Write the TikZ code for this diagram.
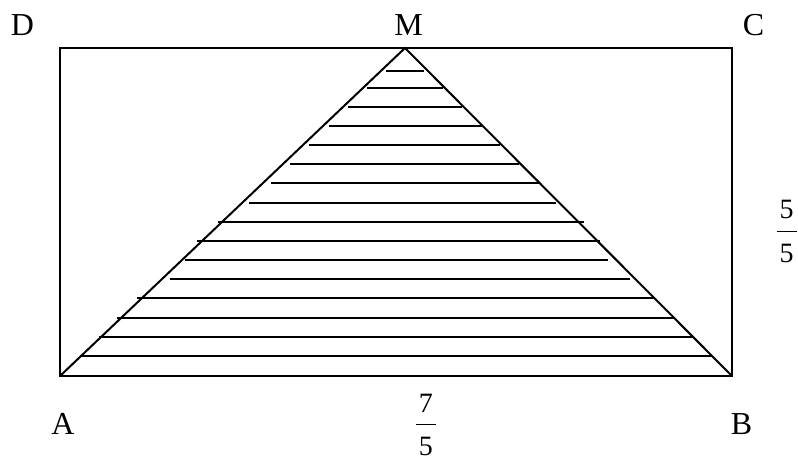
\documentclass[tikz,border=0pt]{standalone}
\usepackage{fontspec}
\setmainfont{Liberation Serif}
\usetikzlibrary{calc}

% Bruch aus Text-Ziffern (Zaehler, Strich, Nenner)
\newcommand{\bruch}[2]{\vbox{\hbox to 20pt{\hss #1\hss}\kern 12pt
    \hrule height 1.2pt\kern 12pt\hbox to 20pt{\hss #2\hss}}}

\tikzset{
    eckpunkt/.style={inner sep=0pt, anchor=base, font=\fontsize{32}{38}\selectfont},
    masszahl/.style={inner sep=0pt, font=\fontsize{28}{34}\selectfont},
    kante/.style={line width=2pt},
    schraffur/.style={line width=2pt}
}

\begin{document}
\begin{tikzpicture}[x=1pt, y=-1pt]
    \useasboundingbox (0,0) rectangle (798,461);

    % --- ECKPUNKTE ---
    \coordinate (A) at (60,376);
    \coordinate (B) at (732,376);
    \coordinate (C) at (732,48);
    \coordinate (D) at (60,48);
    \coordinate (M) at (405,48);

    % --- RECHTECK UND DREIECK ---
    \draw[kante] (A) -- (B) -- (C) -- (D) -- cycle;
    \draw[kante, line join=miter] (A) -- (M) -- (B);

    % Schraffur (hartcodierte Koordinaten)
    \foreach \y/\xl/\xr in {71/386/424, 88/367/443, 107/348/462, 126/329/482,
                            145/309/500, 164/290/519, 183/271/539, 203/249/556,
                            222/218/584, 241/197/600, 260/185/608, 279/170/630,
                            298/137/655, 318/117/674, 337/99/693, 356/80/712}
        \draw[schraffur] (\xl,\y) -- (\xr,\y);

    % --- BESCHRIFTUNG ---
    \node[eckpunkt] (labelD) at (22.5,35) {D};
    \node[eckpunkt] (labelM) at (408.5,35) {M};
    \node[eckpunkt] (labelC) at (753.5,35) {C};
    \node[eckpunkt] (labelA) at (63,434) {A};
    \node[eckpunkt] (labelB) at (741.5,434) {B};

    \node[masszahl] (hoehe) at (786.7,231.5) {\bruch{5}{5}};
    \node[masszahl] (breite) at (425.8,425) {\bruch{7}{5}};

\end{tikzpicture}
\end{document}
